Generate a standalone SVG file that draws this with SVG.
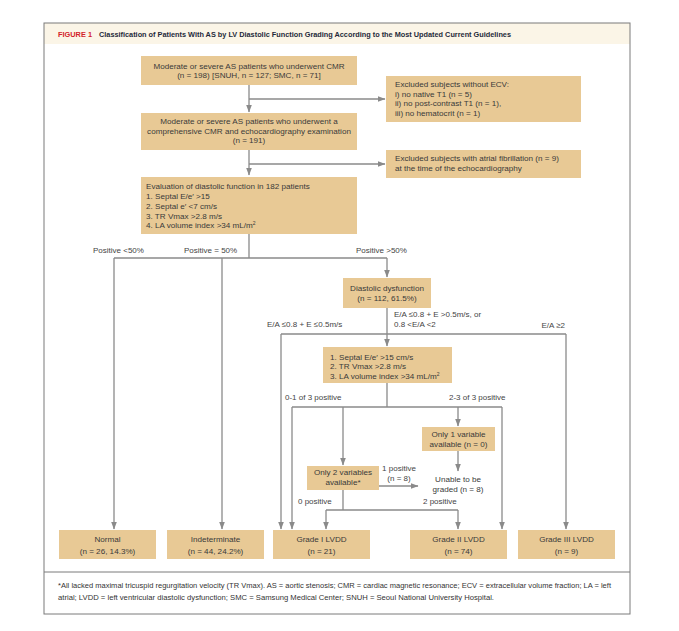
<svg xmlns="http://www.w3.org/2000/svg" width="679" height="631" viewBox="0 0 679 631">
<defs>
<marker id="ah" markerWidth="8" markerHeight="9" refX="7.5" refY="4" orient="auto" markerUnits="userSpaceOnUse">
<path d="M0,1 L8,4 L0,7 Z" fill="#8a8a8a"/>
</marker>
<style>
.box{fill:#E8C995;}
.t{font-family:"Liberation Sans",Arial,sans-serif;font-size:8.1px;fill:#3a3a3a;}
.c{text-anchor:middle;}
.lbl{font-family:"Liberation Sans",Arial,sans-serif;font-size:8px;fill:#444;}
.ln{fill:none;stroke:#8a8a8a;stroke-width:1.3;}
.ar{marker-end:url(#ah);}
.fn{font-family:"Liberation Sans",Arial,sans-serif;font-size:7.4px;fill:#333;}
</style>
</defs>
<rect x="0" y="0" width="679" height="631" fill="#fff"/>
<g id="frame">
<rect x="44" y="23" width="586" height="21" fill="#FBF5E7"/>
<rect x="44" y="23" width="586" height="591" fill="none" stroke="#7a7a7a" stroke-width="1"/>
<line x1="44" y1="572" x2="630" y2="572" stroke="#7a7a7a" stroke-width="1"/>
<text x="58" y="37" font-family="Liberation Sans,Arial,sans-serif" font-size="7" font-weight="bold" fill="#D2232A" textLength="34" lengthAdjust="spacingAndGlyphs">FIGURE 1</text>
<text x="99" y="37" font-family="Liberation Sans,Arial,sans-serif" font-size="7" font-weight="bold" fill="#1f2a3a" textLength="412" lengthAdjust="spacingAndGlyphs">Classification of Patients With AS by LV Diastolic Function Grading According to the Most Updated Current Guidelines</text>
</g>
<g id="connectors">
<path class="ln ar" d="M249,85 V112"/>
<path class="ln ar" d="M249,99 H385"/>
<path class="ln ar" d="M249,150 V175"/>
<path class="ln ar" d="M249,164 H385"/>
<path class="ln" d="M249,234 V258 M114,258 H387"/>
<path class="ln ar" d="M114,258 V529"/>
<path class="ln ar" d="M222,258 V529"/>
<path class="ln ar" d="M387,258 V277"/>
<path class="ln ar" d="M387,308 V346"/>
<path class="ln" d="M281,334 H566"/>
<path class="ln ar" d="M281,334 V529"/>
<path class="ln ar" d="M566,334 V529"/>
<path class="ln" d="M387,383 V407 M292,407 H502"/>
<path class="ln ar" d="M292,407 V529"/>
<path class="ln ar" d="M502,407 V529"/>
<path class="ln ar" d="M343,407 V465"/>
<path class="ln ar" d="M458,407 V426"/>
<path class="ln ar" d="M458,451 V471"/>
<path class="ln ar" d="M379,486 H418"/>
<path class="ln" d="M343,490 V510 M326,510 H458"/>
<path class="ln ar" d="M326,510 V529"/>
<path class="ln ar" d="M458,510 V529"/>
</g>
<g id="n_cmr">
<rect class="box" x="141" y="56" width="216" height="29"/>
<text class="t c" x="249" y="68.5">Moderate or severe AS patients who underwent CMR</text>
<text class="t c" x="249" y="78">(n = 198) [SNUH, n = 127; SMC, n = 71]</text>
</g>
<g id="n_excl_ecv">
<rect class="box" x="386" y="76" width="195" height="46"/>
<text class="t" x="395" y="87">Excluded subjects without ECV:</text>
<text class="t" x="395" y="96.6">i) no native T1 (n = 5)</text>
<text class="t" x="395" y="106">ii) no post-contrast T1 (n = 1),</text>
<text class="t" x="395" y="115.5">iii) no hematocrit (n = 1)</text>
</g>
<g id="n_comprehensive">
<rect class="box" x="141" y="113" width="216" height="37"/>
<text class="t c" x="249" y="124">Moderate or severe AS patients who underwent a</text>
<text class="t c" x="249" y="133.8">comprehensive CMR and echocardiography examination</text>
<text class="t c" x="249" y="143.3">(n = 191)</text>
</g>
<g id="n_excl_af">
<rect class="box" x="386" y="150" width="195" height="28"/>
<text class="t" x="395" y="161">Excluded subjects with atrial fibrillation (n = 9)</text>
<text class="t" x="395" y="171">at the time of the echocardiography</text>
</g>
<g id="n_eval">
<rect class="box" x="141" y="177" width="216" height="57"/>
<text class="t" x="146" y="189">Evaluation of diastolic function in 182 patients</text>
<text class="t" x="146" y="199">1. Septal E/e′ &gt;15</text>
<text class="t" x="146" y="208.7">2. Septal e′ &lt;7 cm/s</text>
<text class="t" x="146" y="218.5">3. TR Vmax &gt;2.8 m/s</text>
<text class="t" x="146" y="228">4. LA volume index &gt;34 mL/m<tspan font-size="5" dy="-3">2</tspan></text>
</g>
<g id="branch_labels">
<text class="lbl" x="93" y="253">Positive &lt;50%</text>
<text class="lbl" x="184" y="253">Positive = 50%</text>
<text class="lbl" x="356" y="253">Positive &gt;50%</text>
<text class="lbl" x="267" y="327">E/A ≤0.8 + E ≤0.5m/s</text>
<text class="lbl" x="394" y="317">E/A ≤0.8 + E &gt;0.5m/s, or</text>
<text class="lbl" x="394" y="327">0.8 &lt;E/A &lt;2</text>
<text class="lbl" x="565" y="327.5" text-anchor="end">E/A ≥2</text>
<text class="lbl" x="285" y="400">0-1 of 3 positive</text>
<text class="lbl" x="449" y="400">2-3 of 3 positive</text>
<text class="lbl c" x="399" y="471">1 positive</text>
<text class="lbl c" x="399" y="481">(n = 8)</text>
<text class="lbl" x="298" y="504">0 positive</text>
<text class="lbl" x="423" y="504">2 positive</text>
</g>
<g id="n_diastolic">
<rect class="box" x="343" y="278" width="88" height="30"/>
<text class="t c" x="387" y="290.5">Diastolic dysfunction</text>
<text class="t c" x="387" y="300.5">(n = 112, 61.5%)</text>
</g>
<g id="n_criteria">
<rect class="box" x="323" y="347" width="129" height="36"/>
<text class="t" x="330" y="359.6">1. Septal E/e′ &gt;15 cm/s</text>
<text class="t" x="330" y="369.3">2. TR Vmax &gt;2.8 m/s</text>
<text class="t" x="330" y="378.8">3. LA volume index &gt;34 mL/m<tspan font-size="5" dy="-3">2</tspan></text>
</g>
<g id="n_only1">
<rect class="box" x="422" y="427" width="73" height="24"/>
<text class="t c" x="458.5" y="436.8">Only 1 variable</text>
<text class="t c" x="458.5" y="446.5">available (n = 0)</text>
</g>
<g id="n_only2">
<rect class="box" x="307" y="466" width="72" height="24"/>
<text class="t c" x="343" y="474.8">Only 2 variables</text>
<text class="t c" x="343" y="484.8">available*</text>
</g>
<g id="n_unable">
<text class="t c" x="458" y="482">Unable to be</text>
<text class="t c" x="458" y="491.8">graded (n = 8)</text>
</g>
<g id="n_normal">
<rect class="box" x="59" y="530" width="97" height="29"/>
<text class="t c" x="107.5" y="542">Normal</text>
<text class="t c" x="107.5" y="553.8">(n = 26, 14.3%)</text>
</g>
<g id="n_indeterminate">
<rect class="box" x="167" y="530" width="97" height="29"/>
<text class="t c" x="215.5" y="542">Indeterminate</text>
<text class="t c" x="215.5" y="553.8">(n = 44, 24.2%)</text>
</g>
<g id="n_grade1">
<rect class="box" x="273" y="530" width="97" height="29"/>
<text class="t c" x="321.5" y="542">Grade I LVDD</text>
<text class="t c" x="321.5" y="553.8">(n = 21)</text>
</g>
<g id="n_grade2">
<rect class="box" x="410" y="530" width="97" height="29"/>
<text class="t c" x="458.5" y="542">Grade II LVDD</text>
<text class="t c" x="458.5" y="553.8">(n = 74)</text>
</g>
<g id="n_grade3">
<rect class="box" x="518" y="530" width="97" height="29"/>
<text class="t c" x="566.5" y="542">Grade III LVDD</text>
<text class="t c" x="566.5" y="553.8">(n = 9)</text>
</g>
<g id="footnote">
<text class="fn" x="58" y="587.5" textLength="553" lengthAdjust="spacingAndGlyphs">*All lacked maximal tricuspid regurgitation velocity (TR Vmax). AS = aortic stenosis; CMR = cardiac magnetic resonance; ECV = extracellular volume fraction; LA = left</text>
<text class="fn" x="58" y="599.5" textLength="436" lengthAdjust="spacingAndGlyphs">atrial; LVDD = left ventricular diastolic dysfunction; SMC = Samsung Medical Center; SNUH = Seoul National University Hospital.</text>
</g>
</svg>
